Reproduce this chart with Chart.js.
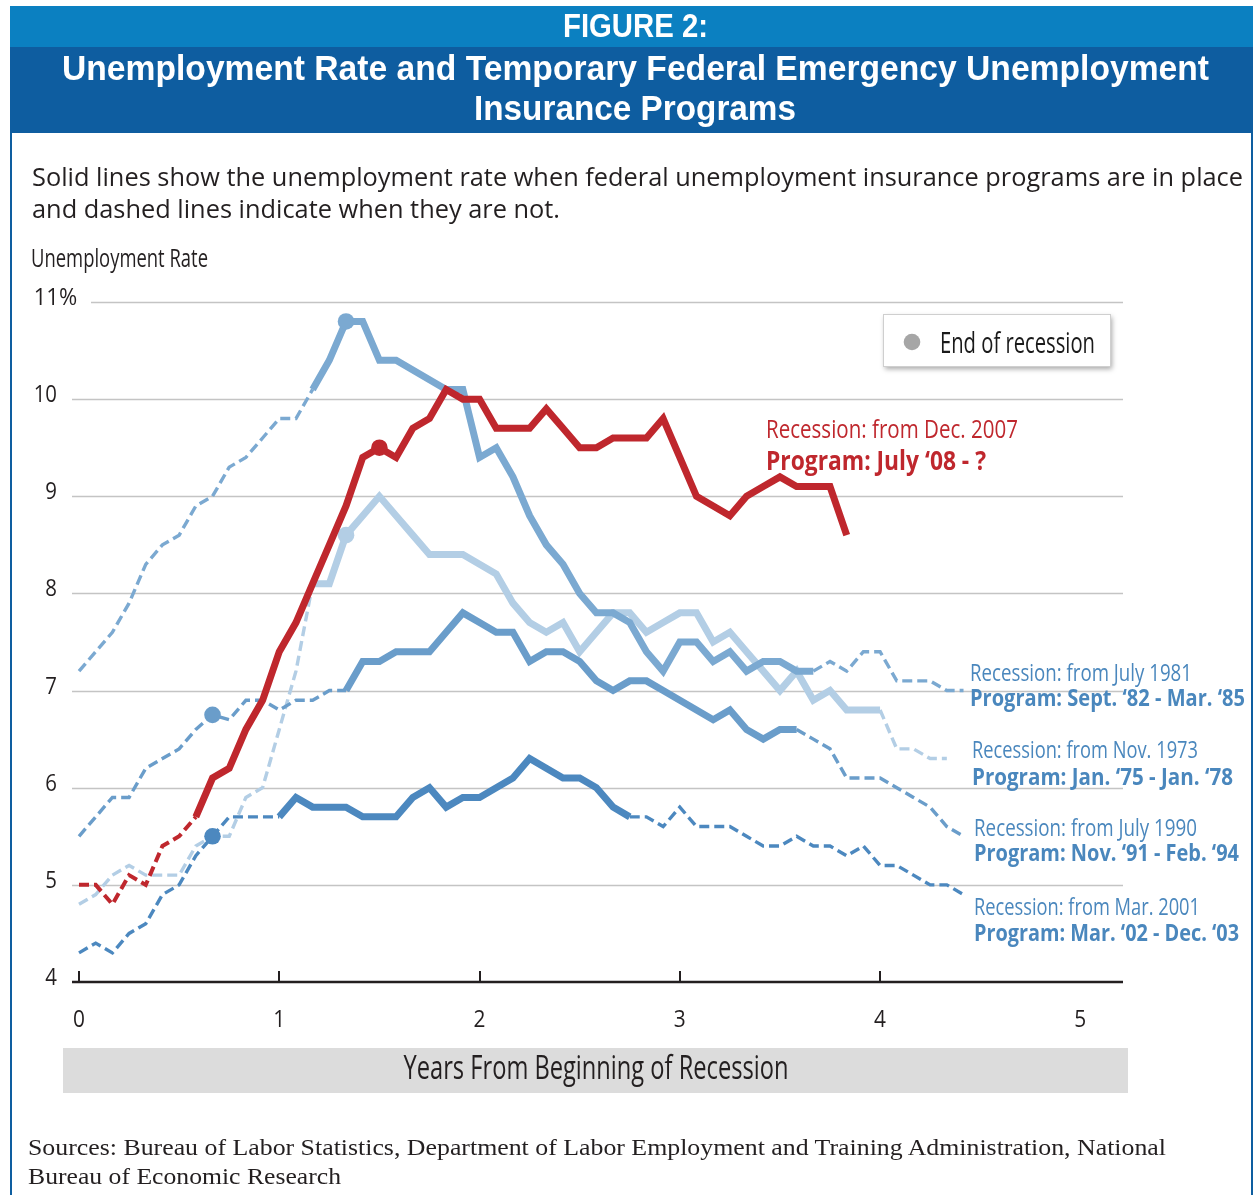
<!DOCTYPE html>
<html>
<head>
<meta charset="utf-8">
<script src="https://cdn.jsdelivr.net/npm/chart.js@4.4.1/dist/chart.umd.min.js"></script>
<style>
  html, body { margin: 0; padding: 0; background: #fff; }
  body { width: 1259px; height: 1195px; position: relative; overflow: hidden; }
  #frame { position: absolute; left: 10px; top: 6px; width: 1239px; height: 1200px;
           border-left: 2px solid #0E5EA0; border-right: 2px solid #0E5EA0; }
  #bandTop { position: absolute; left: 10px; top: 6px; width: 1243px; height: 41px; background: #0B80C1; }
  #bandMain { position: absolute; left: 10px; top: 47px; width: 1243px; height: 86px; background: #0E5DA0; }
  .txt { position: absolute; white-space: nowrap; transform-origin: 0 0; line-height: 1; }
  #chartWrap { position: absolute; left: 0; top: 0; width: 1259px; height: 1195px; }
</style>
</head>
<body>
<div id="frame"></div>
<div id="bandTop"></div>
<div id="bandMain"></div>
<div id="chartWrap"><canvas id="chart"></canvas></div>

<script>
// monthly unemployment rate (%), month 0 = first month of the recession
const rateDec2007 = [5.0, 5.0, 4.8, 5.1, 5.0, 5.4, 5.5, 5.7, 6.1, 6.2,
                     6.6, 6.9, 7.4, 7.7, 8.1, 8.5, 8.9, 9.4, 9.5, 9.4,
                     9.7, 9.8, 10.1, 10.0, 10.0, 9.7, 9.7, 9.7, 9.9, 9.7,
                     9.5, 9.5, 9.6, 9.6, 9.6, 9.8, 9.4, 9.0, 8.9, 8.8,
                     9.0, 9.1, 9.2, 9.1, 9.1, 9.1, 8.6];
const rateJul1981 = [7.2, 7.4, 7.6, 7.9, 8.3, 8.5, 8.6, 8.9, 9.0, 9.3,
                     9.4, 9.6, 9.8, 9.8, 10.1, 10.4, 10.8, 10.8, 10.4, 10.4,
                     10.3, 10.2, 10.1, 10.1, 9.4, 9.5, 9.2, 8.8, 8.5, 8.3,
                     8.0, 7.8, 7.8, 7.7, 7.4, 7.2, 7.5, 7.5, 7.3, 7.4,
                     7.2, 7.3, 7.3, 7.2, 7.2, 7.3, 7.2, 7.4, 7.4, 7.1,
                     7.1, 7.1, 7.0, 7.0];
const rateJul1990 = [5.5, 5.7, 5.9, 5.9, 6.2, 6.3, 6.4, 6.6, 6.75, 6.7,
                     6.9, 6.9, 6.8, 6.9, 6.9, 7.0, 7.0, 7.3, 7.3, 7.4,
                     7.4, 7.4, 7.6, 7.8, 7.7, 7.6, 7.6, 7.3, 7.4, 7.4,
                     7.3, 7.1, 7.0, 7.1, 7.1, 7.0, 6.9, 6.8, 6.7, 6.8,
                     6.6, 6.5, 6.6, 6.6, 6.5, 6.4, 6.1, 6.1, 6.1, 6.0,
                     5.9, 5.8, 5.6, 5.5];
const rateMar2001 = [4.3, 4.4, 4.3, 4.5, 4.6, 4.9, 5.0, 5.3, 5.5, 5.7,
                     5.7, 5.7, 5.7, 5.9, 5.8, 5.8, 5.8, 5.7, 5.7, 5.7,
                     5.9, 6.0, 5.8, 5.9, 5.9, 6.0, 6.1, 6.3, 6.2, 6.1,
                     6.1, 6.0, 5.8, 5.7, 5.7, 5.6, 5.8, 5.6, 5.6, 5.6,
                     5.5, 5.4, 5.4, 5.5, 5.4, 5.4, 5.3, 5.4, 5.2, 5.2,
                     5.1, 5.0, 5.0, 4.9];
const rateNov1973 = [4.8, 4.9, 5.1, 5.2, 5.1, 5.1, 5.1, 5.4, 5.5, 5.5,
                     5.9, 6.0, 6.6, 7.2, 8.1, 8.1, 8.6, 8.8, 9.0, 8.8,
                     8.6, 8.4, 8.4, 8.4, 8.3, 8.2, 7.9, 7.7, 7.6, 7.7,
                     7.4, 7.6, 7.8, 7.8, 7.6, 7.7, 7.8, 7.8, 7.5, 7.6,
                     7.4, 7.2, 7.0, 7.2, 6.9, 7.0, 6.8, 6.8, 6.8, 6.4,
                     6.4, 6.3, 6.3];

// order: red on top, 1973 at the bottom
const programFirstMonth = [7, 14, 16, 12, 14];
const programLastMonth  = [46, 44, 43, 33, 48];
const recessionEndMonth = [18, 16, 8, 8, 16];
const recessionLabels = ['Recession: from Dec. 2007', 'Recession: from July 1981', 'Recession: from July 1990',
                         'Recession: from Mar. 2001', 'Recession: from Nov. 1973'];
const programLabels = ['Program: July \u201808 - ?', 'Program: Sept. \u201882 - Mar. \u201885', 'Program: Nov. \u201891 - Feb. \u201894',
                       'Program: Mar. \u201802 - Dec. \u201803', 'Program: Jan. \u201875 - Jan. \u201878'];

const xTickValues = [0, 1, 2, 3, 4, 5];
const xTickLabels = ['0', '1', '2', '3', '4', '5'];
const xTickMarks = [0, 1, 2, 3, 4];
const yTickValues = [4, 5, 6, 7, 8, 9, 10, 11];
const yTickLabels = ['4', '5', '6', '7', '8', '9', '10', '11%'];

const RED = '#BF272D';
const LABEL_BLUE = '#4A87BD';
const INK = '#231F20';
const SANS = '"Open Sans", "DejaVu Sans", sans-serif';

// ---- plain page text (header, subtitle, sources) ----
function placeText(spec) {
  const el = document.createElement('div');
  el.className = 'txt';
  el.style.font = `${spec.weight || 400} ${spec.size}px ${spec.family}`;
  el.style.color = spec.color;
  el.textContent = spec.text;
  const probe = document.createElement('span');
  probe.style.cssText = 'display:inline-block;width:0;height:0;vertical-align:baseline;';
  el.appendChild(probe);
  el.style.left = spec.left + 'px';
  el.style.top = '0px';
  document.body.appendChild(el);
  const natural = el.getBoundingClientRect().width;
  const baseNow = probe.getBoundingClientRect().top;
  el.style.top = (spec.base - baseNow) + 'px';
  el.style.transform = `scaleX(${spec.width / natural})`;
}

const HEAD = '"Liberation Sans", Arial, sans-serif';
const SERIF = '"Liberation Serif", "Times New Roman", serif';
[
  { text: 'FIGURE 2:', left: 563, width: 145, base: 37, size: 34, weight: 700, family: HEAD, color: '#fff' },
  { text: 'Unemployment Rate and Temporary Federal Emergency Unemployment', left: 62, width: 1147, base: 80, size: 35, weight: 700, family: HEAD, color: '#fff' },
  { text: 'Insurance Programs', left: 474, width: 322, base: 120, size: 35, weight: 700, family: HEAD, color: '#fff' },
  { text: 'Solid lines show the unemployment rate when federal unemployment insurance programs are in place', left: 32, width: 1211, base: 186, size: 25, family: SANS, color: INK },
  { text: 'and dashed lines indicate when they are not.', left: 32, width: 528, base: 218, size: 25, family: SANS, color: INK },
  { text: 'Sources: Bureau of Labor Statistics, Department of Labor Employment and Training Administration, National', left: 28, width: 1138, base: 1155, size: 23, family: SERIF, color: INK },
  { text: 'Bureau of Economic Research', left: 28, width: 313, base: 1184, size: 23, family: SERIF, color: INK },
].forEach(placeText);

// ---- canvas helpers ----
function fitText(ctx, text, x, y, font, color, opts) {
  ctx.save();
  ctx.font = font;
  ctx.fillStyle = color;
  ctx.textBaseline = 'alphabetic';
  ctx.textAlign = 'left';
  const w0 = ctx.measureText(text).width;
  const w = opts.width ? opts.width : w0 * (opts.sx || 1);
  const left = opts.align === 'center' ? x - w / 2 : opts.align === 'right' ? x - w : x;
  ctx.translate(left, y);
  ctx.scale(w / w0, 1);
  ctx.fillText(text, 0, 0);
  ctx.restore();
}

function toPoints(values) {
  return values.map((v, i) => ({ x: i / 12, y: v }));
}

function lineDataset(values, k, color) {
  const inside = c => c.p0DataIndex >= programFirstMonth[k] && c.p1DataIndex <= programLastMonth[k];
  return {
    label: recessionLabels[k],
    data: toPoints(values),
    borderColor: color,
    backgroundColor: color,
    borderWidth: 7,
    pointRadius: c => c.dataIndex === recessionEndMonth[k] ? 8.3 : 0,
    pointBorderWidth: 0,
    pointHoverRadius: 0,
    pointBackgroundColor: color,
    fill: false,
    tension: 0,
    segment: {
      borderDash: c => inside(c) ? [] : [10, 5],
      borderWidth: c => inside(c) ? 7 : (k === 0 ? 4 : 3.4),
    },
  };
}

const labelSpots = [
  { x: 766, b1: 438, w1: 252, b2: 470, w2: 220, size: 26, color: RED },
  { x: 970, b1: 681, w1: 222, b2: 706, w2: 275, size: 23, color: LABEL_BLUE },
  { x: 974, b1: 836, w1: 223, b2: 861, w2: 265, size: 23, color: LABEL_BLUE },
  { x: 974, b1: 915, w1: 226, b2: 941, w2: 265, size: 23, color: LABEL_BLUE },
  { x: 972, b1: 758, w1: 226, b2: 785, w2: 261, size: 23, color: LABEL_BLUE },
];

const decorPlugin = {
  id: 'decor',
  beforeDatasetsDraw(chart) {
    const { ctx, chartArea } = chart;
    const y = chart.scales.y;
    ctx.save();
    ctx.fillStyle = '#DCDCDC';
    ctx.fillRect(63, 1048, 1065, 45);
    ctx.strokeStyle = '#C4C4C4';
    ctx.lineWidth = 1.4;
    yTickValues.forEach((v, i) => {
      if (v === y.min) return;
      const py = Math.round(y.getPixelForValue(v)) + 0.5;
      const startX = yTickLabels[i].includes('%') ? 91 : chartArea.left;
      ctx.beginPath();
      ctx.moveTo(startX, py);
      ctx.lineTo(chartArea.right, py);
      ctx.stroke();
    });
    ctx.restore();
  },
  afterDatasetsDraw(chart) {
    const { ctx, chartArea } = chart;
    const x = chart.scales.x, y = chart.scales.y;
    ctx.save();
    // axis line and ticks
    const axisY = y.getPixelForValue(y.min);
    ctx.strokeStyle = INK;
    ctx.lineWidth = 2.5;
    ctx.beginPath();
    ctx.moveTo(chartArea.left, axisY);
    ctx.lineTo(chartArea.right, axisY);
    ctx.stroke();
    ctx.lineWidth = 2;
    xTickMarks.forEach(v => {
      const px = Math.round(x.getPixelForValue(v));
      ctx.beginPath();
      ctx.moveTo(px, axisY);
      ctx.lineTo(px, axisY - 11);
      ctx.stroke();
    });
    // tick labels
    xTickValues.forEach((v, i) => {
      fitText(ctx, xTickLabels[i], x.getPixelForValue(v), 1027, `24px ${SANS}`, INK, { sx: 0.87, align: 'center' });
    });
    yTickValues.forEach((v, i) => {
      const lab = yTickLabels[i];
      const num = lab.replace('%', '');
      ctx.font = `24px ${SANS}`;
      const numW = ctx.measureText(num).width * 0.85;
      const sx = lab.includes('%') ? 0.92 : 0.85;
      fitText(ctx, lab, 57 - numW, y.getPixelForValue(v) + 3, `24px ${SANS}`, INK, { sx });
    });
    // axis titles
    fitText(ctx, 'Unemployment Rate', 31, 267, `25px ${SANS}`, INK, { width: 177 });
    fitText(ctx, 'Years From Beginning of Recession', 596, 1079, `32px ${SANS}`, INK, { width: 385, align: 'center' });

    // legend box
    ctx.save();
    ctx.shadowColor = 'rgba(0,0,0,0.35)';
    ctx.shadowBlur = 5;
    ctx.shadowOffsetX = 2;
    ctx.shadowOffsetY = 3;
    ctx.fillStyle = '#fff';
    ctx.fillRect(883, 314, 227, 52);
    ctx.restore();
    ctx.strokeStyle = '#CFCFCF';
    ctx.lineWidth = 1;
    ctx.strokeRect(883.5, 314.5, 227, 52);
    ctx.fillStyle = '#A6A6A6';
    ctx.beginPath();
    ctx.arc(912, 342, 8.3, 0, Math.PI * 2);
    ctx.fill();
    fitText(ctx, 'End of recession', 940, 353, `29px ${SANS}`, '#1A1A1A', { width: 155 });

    // series annotations
    labelSpots.forEach((s, k) => {
      fitText(ctx, recessionLabels[k], s.x, s.b1, `${s.size}px ${SANS}`, s.color, { width: s.w1 });
      fitText(ctx, programLabels[k], s.x, s.b2, `700 ${s.size}px ${SANS}`, s.color, { width: s.w2 });
    });
    ctx.restore();
  }
};

new Chart(document.getElementById('chart'), {
  type: 'line',
  data: {
    datasets: [
      lineDataset(rateDec2007, 0, RED),
      lineDataset(rateJul1981, 1, '#7BA9D1'),
      lineDataset(rateJul1990, 2, '#6A9DCA'),
      lineDataset(rateMar2001, 3, '#4C88BF'),
      lineDataset(rateNov1973, 4, '#B3CEE5'),
    ]
  },
  options: {
    responsive: true,
    maintainAspectRatio: false,
    animation: false,
    events: [],
    layout: { padding: { left: 72, right: 136, top: 302, bottom: 213 } },
    plugins: { legend: { display: false }, tooltip: { enabled: false } },
    scales: {
      x: { type: 'linear', display: false, min: -0.035, max: 5.213 },
      y: { type: 'linear', display: false, min: 4, max: 11 }
    }
  },
  plugins: [decorPlugin]
});
</script>
</body>
</html>
